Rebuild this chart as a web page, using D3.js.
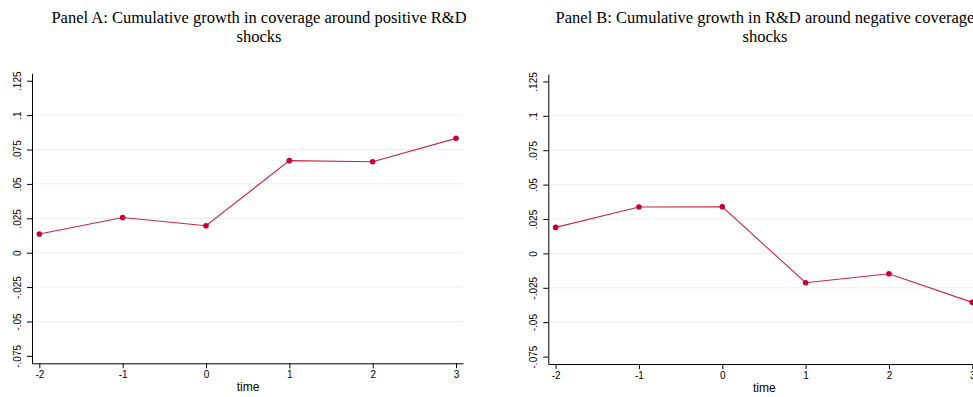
<!DOCTYPE html>
<html>
<head>
<meta charset="utf-8">
<script src="https://cdn.jsdelivr.net/npm/d3@7"></script>
<style>
  body { margin: 0; background: #fff; overflow: hidden; }
  .tick text { font-family: "Liberation Sans", Arial, sans-serif; }
</style>
</head>
<body>
<div id="chart"></div>
<script>
// event time (x) and estimated coefficients
const times = [-2, -1, 0, 1, 2, 3];
const panelA = [0.0136, 0.0256, 0.0196, 0.0669, 0.0661, 0.0831];
const panelB = [0.0189, 0.0337, 0.0339, -0.0213, -0.0148, -0.0356];
const yTicks = [-0.075, -0.05, -0.025, 0, 0.025, 0.05, 0.075, 0.1, 0.125];
const yGrid = [-0.05, -0.025, 0, 0.025, 0.05, 0.075, 0.1];
const titlesA = ["Panel A: Cumulative growth in coverage around positive R&D", "shocks"];
const titlesB = ["Panel B: Cumulative growth in R&D around negative coverage", "shocks"];

const width = 973, height = 397;
const svg = d3.select("#chart").append("svg")
    .attr("width", width)
    .attr("height", height);

const lineColor = "#c8254a";
const dotColor = "#c10034";

// Stata style labels: plain hyphen, no leading zero
function fmt(v) {
    if (v === 0) return "0";
    return String(+v.toFixed(3)).replace("0.", ".");
}

function drawPanel(ox, oy, values, titles, titleX) {
    const g = svg.append("g").attr("transform", `translate(${ox},${oy})`);

    // plot region in local coords
    const x = d3.scaleLinear().domain([-2.088, 3.084]).range([32, 463]);
    const y = d3.scaleLinear().domain([-0.0804, 0.1304]).range([363.3, 73.3]);

    // gridlines
    g.append("g")
        .selectAll("line")
        .data(yGrid)
        .join("line")
        .attr("x1", 33).attr("x2", 463)
        .attr("y1", d => y(d)).attr("y2", d => y(d))
        .attr("stroke", "#e8eff1")
        .attr("stroke-width", 1);

    // y axis
    const yAxis = g.append("g")
        .attr("transform", "translate(32,0)")
        .call(d3.axisLeft(y).tickValues(yTicks).tickFormat(fmt).tickSize(5).tickSizeOuter(0));
    yAxis.select(".domain").attr("stroke", "#000");
    yAxis.selectAll(".tick line").attr("stroke", "#000");
    yAxis.selectAll(".tick text")
        .attr("font-size", 10)
        .attr("fill", "#000")
        .attr("transform", "rotate(-90)")
        .attr("x", 0)
        .attr("y", -11)
        .attr("dy", 0)
        .attr("text-anchor", "middle");

    // x axis
    const xAxis = g.append("g")
        .attr("transform", "translate(0,363.3)")
        .call(d3.axisBottom(x).tickValues(times).tickFormat(d => String(d)).tickSize(5).tickSizeOuter(0));
    xAxis.select(".domain").attr("stroke", "#000");
    xAxis.selectAll(".tick line").attr("stroke", "#000");
    xAxis.selectAll(".tick text")
        .attr("font-size", 10)
        .attr("fill", "#000")
        .attr("y", 8)
        .attr("dy", "0.71em");

    g.append("text")
        .attr("x", 248)
        .attr("y", 391)
        .attr("text-anchor", "middle")
        .attr("font-family", "Liberation Sans, Arial, sans-serif")
        .attr("font-size", 12)
        .text("time");

    // series
    const pts = times.map((t, i) => [t, values[i]]);
    g.append("path")
        .datum(pts)
        .attr("fill", "none")
        .attr("stroke", lineColor)
        .attr("stroke-width", 1.1)
        .attr("d", d3.line().x(d => x(d[0])).y(d => y(d[1])));

    g.append("g")
        .selectAll("circle")
        .data(pts)
        .join("circle")
        .attr("cx", d => x(d[0]))
        .attr("cy", d => y(d[1]))
        .attr("r", 2.8)
        .attr("fill", dotColor);

    // title
    svg.append("text")
        .attr("x", titleX)
        .attr("y", 23)
        .attr("text-anchor", "middle")
        .attr("font-family", "Liberation Serif, Times New Roman, serif")
        .attr("font-size", 16.5)
        .selectAll("tspan")
        .data(titles)
        .join("tspan")
        .attr("x", titleX)
        .attr("dy", (d, i) => i === 0 ? 0 : 19)
        .text(d => d);
}

drawPanel(0, 0, panelA, titlesA, 259);
drawPanel(516.3, 0.7, panelB, titlesB, 765);
</script>
</body>
</html>
